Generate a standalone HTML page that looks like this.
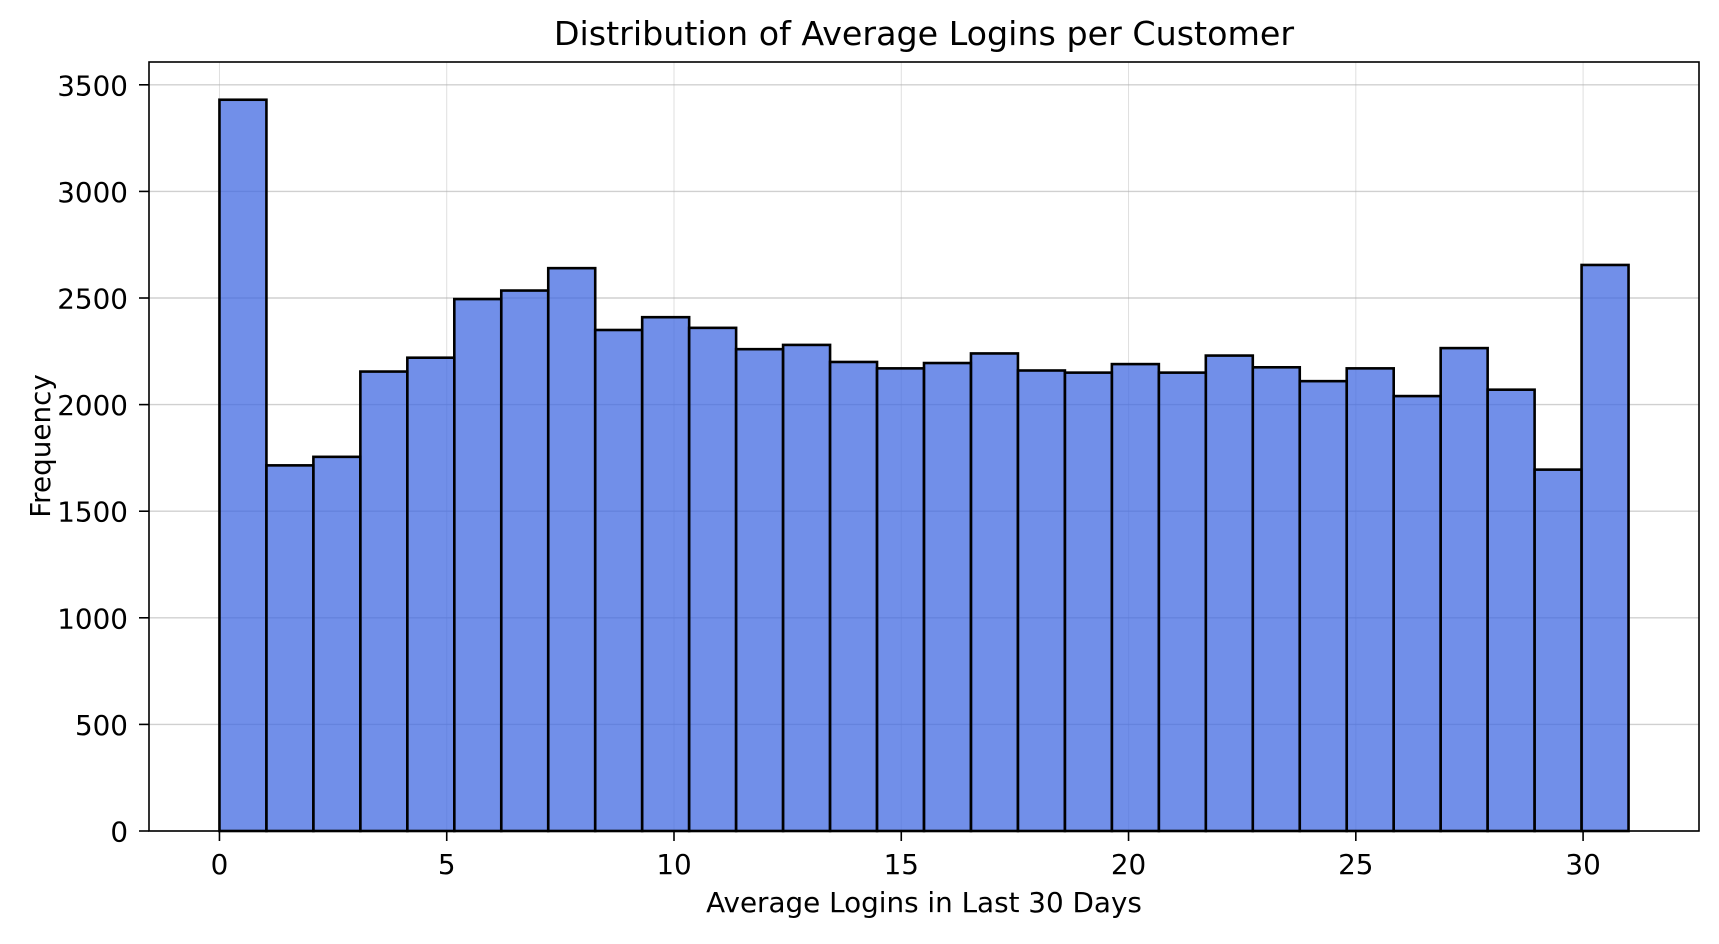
<!DOCTYPE html>
<html><head><meta charset="utf-8"><style>
html,body{margin:0;padding:0;background:#fff;}
svg text{font-family:"DejaVu Sans","Liberation Sans",sans-serif;fill:#000;}
</style></head><body>
<svg id="chart" width="1719" height="939" viewBox="0 0 1719 939" xmlns="http://www.w3.org/2000/svg">
<rect width="1719" height="939" fill="#fff"/>
<g id="grid"></g>
<g id="bars"></g>
<rect x="149" y="62" width="1550" height="769" fill="none" stroke="#000" stroke-width="1.6"/>
<g id="xticks"></g>
<g id="yticks"></g>
<text x="924" y="45" font-size="33.3" text-anchor="middle">Distribution of Average Logins per Customer</text>
<text x="924" y="912" font-size="27.8" text-anchor="middle">Average Logins in Last 30 Days</text>
<text x="50" y="446" font-size="27.8" text-anchor="middle" transform="rotate(-90 50 446)">Frequency</text>
</svg>
<script>
const binStart = 0;
const binEnd = 31;
const counts = [3430,1715,1755,2155,2220,2495,2535,2640,2350,2410,2360,2260,2280,2200,2170,2195,2240,2160,2150,2190,2150,2230,2175,2110,2170,2040,2265,2070,1695,2655];
const xTicks = [0,5,10,15,20,25,30];
const yTicks = [0,500,1000,1500,2000,2500,3000,3500];

const L=149,R=1699,T=62,B=831;
const xMin=-1.55,xMax=32.55,yMin=0,yMax=3607;
const NS='http://www.w3.org/2000/svg';
function xs(v){return L+(v-xMin)/(xMax-xMin)*(R-L);}
function ys(v){return B-(v-yMin)/(yMax-yMin)*(B-T);}
function mk(tag,attrs,parent){const e=document.createElementNS(NS,tag);for(const k in attrs)e.setAttribute(k,attrs[k]);parent.appendChild(e);return e;}
const grid=document.getElementById('grid'),bars=document.getElementById('bars'),xg=document.getElementById('xticks'),yg=document.getElementById('yticks');
xTicks.forEach(t=>{
  const x=xs(t);
  const g=mk('line',{x1:x,x2:x,y1:T,y2:B,stroke:'#b0b0b0','stroke-width':1,'stroke-opacity':0.4},grid);
  
  
  const tk=mk('line',{x1:x,x2:x,y1:B,y2:B+10,stroke:'#000','stroke-width':1.6},xg);
  
  
  const tx=mk('text',{x:x,y:874,'font-size':27.8,'text-anchor':'middle'},xg);
  tx.textContent=t;
  
  
});
yTicks.forEach(t=>{
  const y=ys(t);
  const g=mk('line',{x1:L,x2:R,y1:y,y2:y,stroke:'#b0b0b0','stroke-width':1.4,'stroke-opacity':0.6},grid);
  
  
  const tk=mk('line',{x1:L-10,x2:L,y1:y,y2:y,stroke:'#000','stroke-width':1.6},yg);
  
  
  const tx=mk('text',{x:128,y:y+10.5,'font-size':27.8,'text-anchor':'end'},yg);
  tx.textContent=t;
  
  
});
const w=(binEnd-binStart)/counts.length;
counts.forEach((c,i)=>{
  const x0=xs(binStart+i*w),x1=xs(binStart+(i+1)*w);
  const r=mk('rect',{x:x0,y:ys(c),width:x1-x0,height:ys(0)-ys(c),fill:'#4169e1','fill-opacity':0.75,stroke:'#000','stroke-width':2.6},bars);
  
  
});
</script>
</body></html>
